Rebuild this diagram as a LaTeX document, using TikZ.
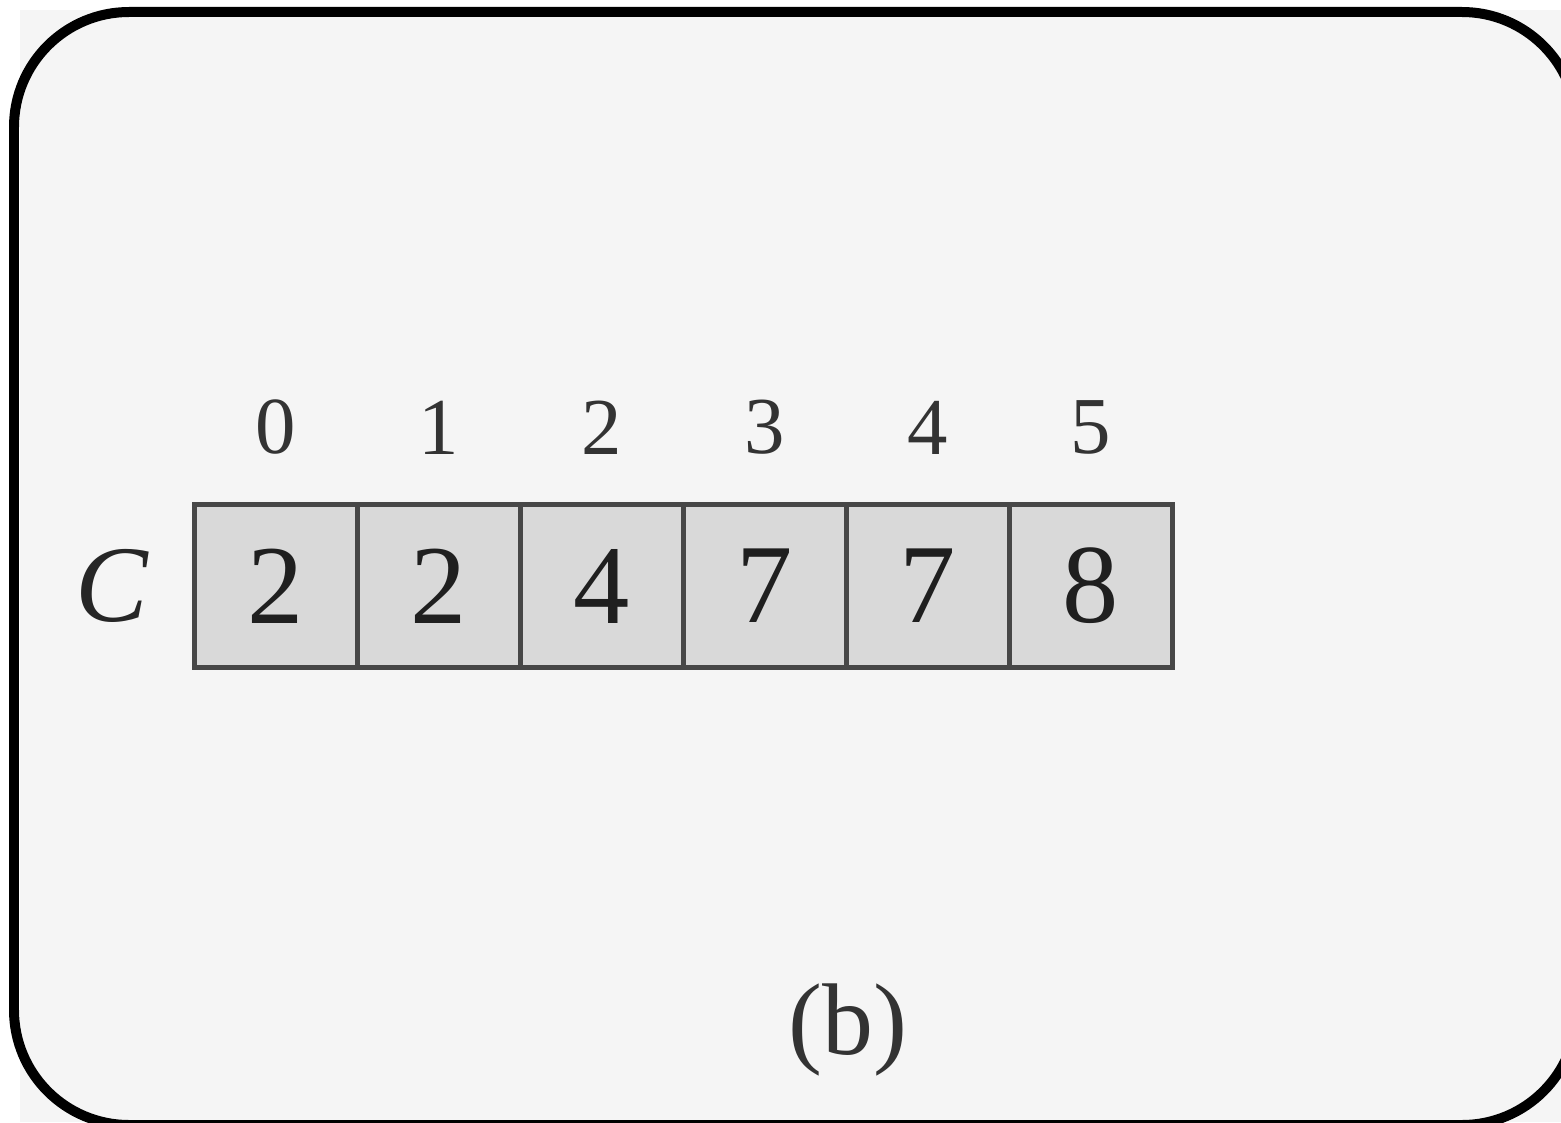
\documentclass[tikz,border=0pt]{standalone}
\usepackage{fontspec}
\setmainfont{Liberation Serif}
\usepackage{tikz}
\usetikzlibrary{positioning}

\begin{document}
\begin{tikzpicture}[x=0.02cm, y=-0.02cm,
        cell/.style={draw=black!72, line width=0.09cm, fill=black!15,
            minimum size=3.26cm, inner sep=0pt, outer sep=0pt, text=black!88,
            font=\fontsize{64}{64}\selectfont},
        idx/.style={inner sep=0pt, text=black!80, font=\fontsize{46}{46}\selectfont}]
        \clip (0,0) rectangle (1561,1122);
        \fill[white] (0,0) rectangle (1561,1122);
        \fill[black!4] (20,10) rectangle (1561,1122);
        \draw[line width=0.2cm, rounded corners=2.3cm] (14,12) rectangle (1577,1125);

        \foreach \v [count=\i from 0] in {2,2,4,7,7,8} {
            \node[cell] (c\i) at (276+163*\i,586) {\v};
            \node[idx, above=1cm of c\i] (i\i) {\i};
        }
        \node[inner sep=0pt, text=black!85, font=\fontsize{62}{62}\selectfont, left=0.9cm of c0] (C) {\textit{C}};
        \node[text=black!80, font=\fontsize{58}{58}\selectfont] (cap) at (848,1030) {(b)};
\end{tikzpicture}
\end{document}
